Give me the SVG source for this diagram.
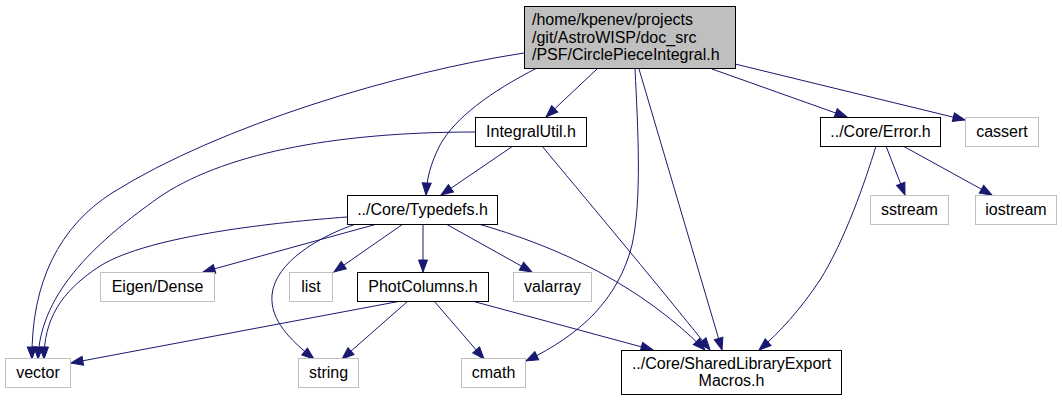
<svg xmlns="http://www.w3.org/2000/svg" width="1062" height="401" viewBox="0 0 1062 401">
<style>
.n rect{fill:#ffffff;stroke:#000000;stroke-width:1}
.x rect{fill:#ffffff;stroke:#bfbfbf;stroke-width:1}
.r rect{fill:#bfbfbf;stroke:#000000;stroke-width:1}
text{font-family:"Liberation Sans",Arial,Helvetica,sans-serif;font-size:16px;fill:#000000}
.c{text-anchor:middle}
#edges path{fill:none;stroke:#191970;stroke-width:1;marker-end:url(#ah)}
</style>
<defs>
<marker id="ah" markerUnits="userSpaceOnUse" markerWidth="15" markerHeight="12" refX="12.5" refY="5" orient="auto" overflow="visible">
<path d="M0.5,0.5 L12.5,5 L0.5,9.5 z" fill="#191970" stroke="#191970" stroke-width="1"/>
</marker>
</defs>
<rect width="1062" height="401" fill="#ffffff"/>
<g id="edges">
<path d="M524,53 C400,72 220,125 112,193 C60,226 31,282 32,359"/>
<path d="M475,132 C330,132 220,155 158,198 C102,238 40,290 38,359"/>
<path d="M347,217 C280,222 150,235 100,266 C60,292 44,320 44,359"/>
<path d="M401,301 L71,363"/>
<path d="M537,68 C490,92 455,118 440,145 C430,165 427,178 426,195"/>
<path d="M513,146 L441,195"/>
<path d="M597,69 L546,117"/>
<path d="M356,224 C320,236 275,262 272,295 C270,320 290,340 314,359"/>
<path d="M408,301 L342,359"/>
<path d="M434,301 L484,359"/>
<path d="M635,69 C638,130 642,200 632,245 C618,300 580,335 526,361"/>
<path d="M377,224 L203,272"/>
<path d="M403,224 L334,272"/>
<path d="M423,224 L423,272"/>
<path d="M446,224 L532,272"/>
<path d="M475,223 C560,247 640,285 705,350"/>
<path d="M542,146 C580,192 650,275 710,350"/>
<path d="M639,69 L722,350"/>
<path d="M472,301 L653,350"/>
<path d="M876,146 C865,182 845,240 820,280 C800,310 780,332 759,350"/>
<path d="M886,146 L905,195"/>
<path d="M903,146 L992,195"/>
<path d="M712,69 L847,117"/>
<path d="M735,64 L965,120"/>
</g>
<g id="root" class="r"><rect x="524.5" y="6.5" width="211" height="62"/>
<text x="532" y="25">/home/kpenev/projects</text>
<text x="532" y="42.5">/git/AstroWISP/doc_src</text>
<text x="532" y="60">/PSF/CirclePieceIntegral.h</text></g>
<g id="integralutil" class="n"><rect x="475.5" y="117.5" width="111" height="29"/><text class="c" x="531" y="137">IntegralUtil.h</text></g>
<g id="error" class="n"><rect x="820.5" y="117.5" width="120" height="29"/><text class="c" x="880.5" y="137">../Core/Error.h</text></g>
<g id="cassert" class="x"><rect x="965.5" y="117.5" width="73" height="29"/><text class="c" x="1002" y="137">cassert</text></g>
<g id="typedefs" class="n"><rect x="347.5" y="195.5" width="150" height="29"/><text class="c" x="422.5" y="215">../Core/Typedefs.h</text></g>
<g id="sstream" class="x"><rect x="870.5" y="195.5" width="78" height="29"/><text class="c" x="909.5" y="215">sstream</text></g>
<g id="iostream" class="x"><rect x="975.5" y="195.5" width="81" height="29"/><text class="c" x="1016" y="215">iostream</text></g>
<g id="eigen" class="x"><rect x="100.5" y="272.5" width="114" height="29"/><text class="c" x="157.5" y="292">Eigen/Dense</text></g>
<g id="list" class="x"><rect x="289.5" y="272.5" width="43" height="29"/><text class="c" x="311" y="292">list</text></g>
<g id="photcolumns" class="n"><rect x="357.5" y="272.5" width="131" height="29"/><text class="c" x="423" y="292">PhotColumns.h</text></g>
<g id="valarray" class="x"><rect x="513.5" y="272.5" width="78" height="29"/><text class="c" x="552.5" y="292">valarray</text></g>
<g id="vector" class="x"><rect x="5.5" y="358.5" width="65" height="29"/><text class="c" x="38" y="378">vector</text></g>
<g id="string" class="x"><rect x="298.5" y="358.5" width="60" height="29"/><text class="c" x="328.5" y="378">string</text></g>
<g id="cmath" class="x"><rect x="461.5" y="358.5" width="64" height="29"/><text class="c" x="493.5" y="378">cmath</text></g>
<g id="macros" class="n"><rect x="621.5" y="350.5" width="220" height="44"/>
<text class="c" x="731.5" y="369">../Core/SharedLibraryExport</text>
<text class="c" x="731.5" y="386">Macros.h</text></g>
</svg>
